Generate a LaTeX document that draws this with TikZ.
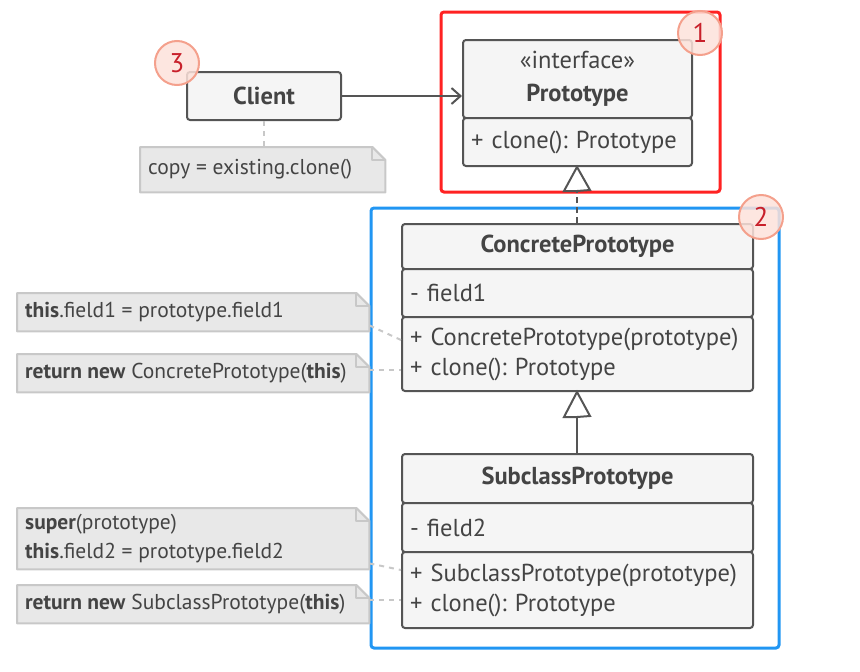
\documentclass[tikz,border=0pt]{standalone}
\usepackage{fontspec}
\setmainfont{PT Sans}
\usetikzlibrary{arrows.meta}
\definecolor{linec}{HTML}{555555}
\definecolor{txt}{HTML}{444444}
\definecolor{boxfill}{HTML}{F5F5F5}
\definecolor{notefill}{HTML}{E8E8E8}
\definecolor{notedraw}{HTML}{C8C8C8}
\definecolor{redframe}{HTML}{FF2222}
\definecolor{blueframe}{HTML}{2196F3}
\definecolor{badgefill}{HTML}{FDE2DA}
\definecolor{badgedraw}{HTML}{F4A08C}
\definecolor{badgetxt}{HTML}{C8202B}
\frenchspacing
\begin{document}
\begin{tikzpicture}[x=1pt,y=-1pt,
  every node/.style={text=txt,font=\fontsize{24.5}{30}\selectfont},
  box/.style={draw=linec,fill=boxfill,line width=2pt,rounded corners=3pt,inner sep=0pt,anchor=north west},
  leftbox/.style={box,align=left,inner xsep=8pt},
  notefont/.style={font=\fontsize{21.5}{29}\selectfont},
  notepath/.style={fill=notefill,draw=notedraw,line width=2pt},
  badge/.style={circle,fill=badgefill,fill opacity=0.85,text opacity=1,draw=badgedraw,line width=2pt,minimum size=44pt,inner sep=0pt,text=badgetxt,font=\fontsize{27}{27}\selectfont},
  frame/.style={line width=3pt,rounded corners=3pt},
  conn/.style={draw=notedraw,line width=2pt,dash pattern=on 5pt off 5pt}
]
\useasboundingbox (0,0) rectangle (860,672);

% frames
\draw[frame,draw=redframe] (441,12) rectangle (720,192);
\draw[frame,draw=blueframe] (371,208) rectangle (779,648);

% Prototype
\node[box,minimum width=229pt,minimum height=78pt,align=center,font=\fontsize{24.5}{33}\selectfont] (ph) at (462,39)
  {«interface»\\\textbf{Prototype}};
\node[box,minimum width=229pt,minimum height=48pt,text width=213pt,inner xsep=8pt,align=left] (pm) at (462,117)
  {+ clone(): Prototype};

% Client
\node[box,minimum width=154pt,minimum height=48pt] (client) at (186,71) {\textbf{Client}};

% ConcretePrototype
\node[box,minimum width=351pt,minimum height=45pt] (ch) at (401,223) {\textbf{ConcretePrototype}};
\node[leftbox,minimum width=351pt,minimum height=48pt,text width=335pt] (cf) at (401,268) {- field1};
\node[leftbox,minimum width=351pt,minimum height=74pt,text width=335pt] (cm) at (401,316)
  {+ ConcretePrototype(prototype)\\+ clone(): Prototype};

% SubclassPrototype
\node[box,minimum width=351pt,minimum height=49pt] (sh) at (401,453) {\textbf{SubclassPrototype}};
\node[leftbox,minimum width=351pt,minimum height=49pt,text width=335pt] (sf) at (401,502) {- field2};
\node[leftbox,minimum width=351pt,minimum height=76pt,text width=335pt] (sm) at (401,551)
  {+ SubclassPrototype(prototype)\\+ clone(): Prototype};

% Arrows
\draw[line width=2pt,draw=linec,-{Straight Barb[length=9pt,width=16pt,line width=2pt]}] (client.east) -- (client.east -| ph.west);
\coordinate (tri1) at (577,191);
\draw[line width=2pt,draw=linec,dash pattern=on 6pt off 4pt] (ch.north -| tri1) -- (tri1);
\draw[line width=2pt,draw=linec,fill=white] (tri1) -- ++(-13,0) -- (pm.south -| tri1) -- ++(13,23) -- cycle;
\coordinate (tri2) at (577,417);
\draw[line width=2pt,draw=linec] (sh.north -| tri2) -- (tri2);
\draw[line width=2pt,draw=linec,fill=white] (tri2) -- ++(-13,0) -- (cm.south -| tri2) -- ++(13,24) -- cycle;

% Notes
\newcommand{\notebox}[1]{%
  \fill[notefill] (#1.south west) -- (#1.north west) -- ([xshift=-13pt]#1.north east) -- ([yshift=-13pt]#1.north east) -- (#1.south east) -- cycle;
  \draw[notepath,fill=none,line join=round] ([xshift=-13pt]#1.north east) -- (#1.north west) -- (#1.south west) -- (#1.south east) -- ([yshift=-13pt]#1.north east) -- cycle;
  \draw[notedraw,line width=2pt,line join=round] ([xshift=-13pt]#1.north east) -- ([xshift=-13pt,yshift=-13pt]#1.north east) -- ([yshift=-13pt]#1.north east);
}
\node[minimum width=245pt,minimum height=45pt,inner sep=0pt,anchor=north west] (n0) at (140,147) {};
\notebox{n0}
\node[notefont,anchor=west,inner sep=0pt] at ([xshift=8pt]n0.west) {copy = existing.clone()};

\node[minimum width=352pt,minimum height=38pt,inner sep=0pt,anchor=north west] (n1) at (17,293) {};
\notebox{n1}
\node[notefont,anchor=west,inner sep=0pt] at ([xshift=8pt]n1.west) {\textbf{this}.field1 = prototype.field1};

\node[minimum width=352pt,minimum height=38pt,inner sep=0pt,anchor=north west] (n2) at (17,354) {};
\notebox{n2}
\node[notefont,anchor=west,inner sep=0pt] at ([xshift=8pt]n2.west) {\textbf{return new} ConcretePrototype(\textbf{this})};

\node[minimum width=352pt,minimum height=61pt,inner sep=0pt,anchor=north west] (n3) at (17,508) {};
\notebox{n3}
\node[notefont,anchor=west,inner sep=0pt,align=left] at ([xshift=8pt]n3.west) {\textbf{super}(prototype)\\\textbf{this}.field2 = prototype.field2};

\node[minimum width=352pt,minimum height=38pt,inner sep=0pt,anchor=north west] (n4) at (17,585) {};
\notebox{n4}
\node[notefont,anchor=west,inner sep=0pt] at ([xshift=8pt]n4.west) {\textbf{return new} SubclassPrototype(\textbf{this})};

% note connectors
\coordinate (c1) at (401,340);
\coordinate (c2) at (401,370);
\coordinate (c3) at (401,570);
\coordinate (c4) at (401,600);
\draw[conn] ([yshift=6pt]n1.south east) -- (c1);
\draw[conn] (n2.east |- c2) -- (c2);
\draw[conn] ([yshift=6pt]n3.south east) -- (c3);
\draw[conn] (n4.east |- c4) -- (c4);
\draw[conn] (client.south) -- (n0.north -| client.south);

% badges
\node[badge] (b1) at (700,33) {1};
\node[badge] (b2) at (761,217) {2};
\node[badge] (b3) at (177,63) {3};
\end{tikzpicture}
\end{document}
